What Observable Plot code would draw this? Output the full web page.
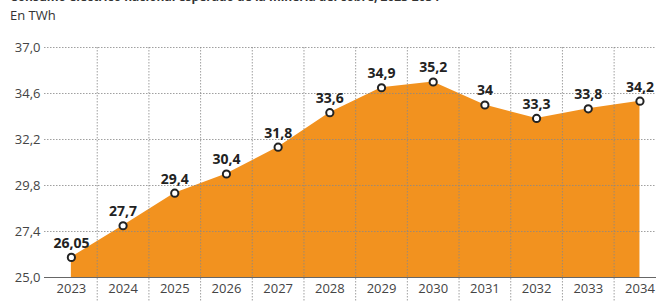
<!DOCTYPE html>
<html>
<head>
<meta charset="utf-8">
<script src="https://cdn.jsdelivr.net/npm/d3@7"></script>
<script src="https://cdn.jsdelivr.net/npm/@observablehq/plot@0.6"></script>
<style>
  html, body { margin: 0; padding: 0; background: #fff; overflow: hidden; }
  #wrap { position: relative; width: 656px; height: 302px; font-family: "Open Sans", sans-serif; }
  #title { position: absolute; left: 10px; top: -12px; font-size: 12px; font-weight: 700; color: #333; white-space: nowrap; }
  #unit { position: absolute; left: 10px; top: 6px; font-size: 13px; color: #333; }
  #chart { position: absolute; left: 0; top: 0; }
</style>
</head>
<body>
<div id="wrap">
  <div id="title">Consumo eléctrico nacional esperado de la minería del cobre, 2023-2034 *</div>
  <div id="unit">En TWh</div>
  <div id="chart"></div>
</div>
<script>
const years = [2023, 2024, 2025, 2026, 2027, 2028, 2029, 2030, 2031, 2032, 2033, 2034];
const values = [26.05, 27.7, 29.4, 30.4, 31.8, 33.6, 34.9, 35.2, 34, 33.3, 33.8, 34.2];
const yTicks = [25.0, 27.4, 29.8, 32.2, 34.6, 37.0];
const gridYears = years.slice(0, -1).map(y => y + 0.5);

const data = years.map((year, i) => ({year, value: values[i]}));
const comma = v => String(v).replace(".", ",");

const plot = Plot.plot({
  width: 656,
  height: 302,
  marginTop: 47,
  marginBottom: 25,
  marginLeft: 44,
  marginRight: 0,
  style: {fontFamily: "Open Sans, sans-serif", background: "transparent", overflow: "visible"},
  x: {domain: [2022.48, 2034.32], axis: null},
  y: {domain: [25, 37], axis: null},
  marks: [
    Plot.areaY(data, {x: "year", y1: 25, y2: "value", fill: "#F2921F"}),
    Plot.ruleY(yTicks.slice(1), {stroke: "#888", strokeDasharray: "1.5,1.5", strokeWidth: 1, strokeOpacity: 0.8}),
    Plot.ruleX(gridYears, {stroke: "#888", strokeDasharray: "1.5,1.5", strokeWidth: 1, strokeOpacity: 0.8, insetBottom: -25}),
    Plot.ruleY([25], {stroke: "#666", strokeWidth: 1.2}),
    Plot.axisY({ticks: yTicks, tickSize: 0, tickPadding: 4, tickFormat: d => d.toFixed(1).replace(".", ","), fontSize: 13, fill: "#444", label: null}),
    Plot.axisX({ticks: years, tickSize: 0, tickPadding: 6, tickFormat: d => String(d), fontSize: 13, fill: "#444", label: null}),
    Plot.dot(data, {x: "year", y: "value", r: 3.6, fill: "white", stroke: "#222", strokeWidth: 2}),
    Plot.text(data, {x: "year", y: "value", text: d => comma(d.value), dy: -14, fontSize: 14, fontWeight: "bold", fill: "#222"})
  ]
});
document.getElementById("chart").append(plot);
</script>
</body>
</html>
